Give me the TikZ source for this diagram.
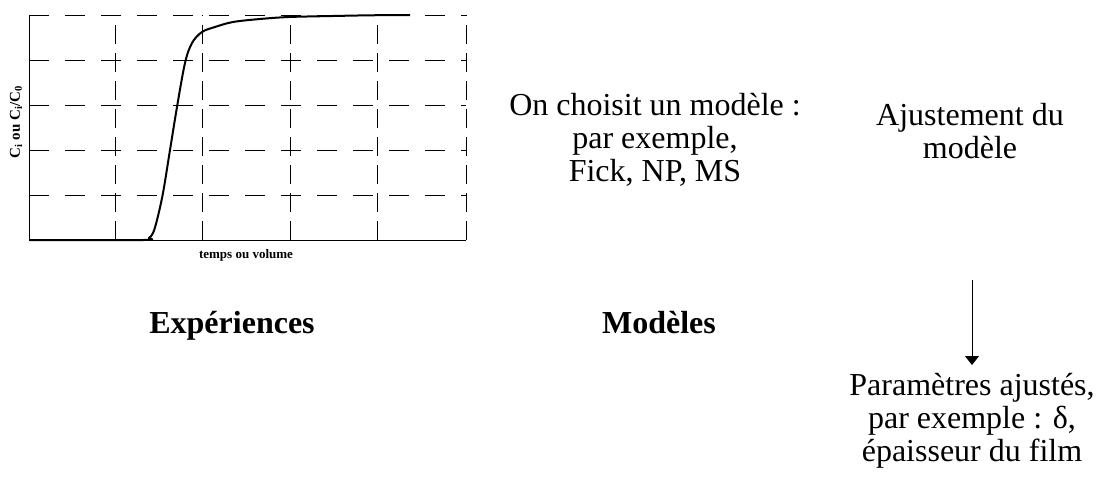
\documentclass[tikz,border=0pt]{standalone}
\usepackage{fontspec}
\setmainfont{Liberation Serif}
\usetikzlibrary{arrows.meta}
\tikzset{
  big/.style={font=\fontsize{32}{33}\selectfont, inner sep=0pt, align=center},
  head/.style={font=\fontsize{32}{35}\selectfont\bfseries, inner sep=0pt},
  small/.style={font=\fontsize{13}{15}\selectfont\bfseries, inner sep=0pt},
  ysmall/.style={font=\fontsize{15}{17}\selectfont\bfseries, inner sep=0pt},
  hgrid/.style={line width=0.9pt, dash pattern=on 20pt off 16pt},
  vgrid/.style={line width=0.9pt, dash pattern=on 19pt off 9pt},
  axis/.style={line width=1pt},
  curve/.style={line width=2pt, line join=round},
  arr/.style={line width=1pt, -{Triangle[length=9pt,width=14pt]}}
}
\begin{document}
\begin{tikzpicture}[x=1pt,y=-1pt]
\useasboundingbox (0,0) rectangle (1099,477);
% plot frame and grid
\foreach \yy in {15,60,105,150,195} \draw[hgrid] (29,\yy) -- (466,\yy);
\foreach \xx in {115.4,202.8,290.2,377.6,466} \draw[vgrid] (\xx,240) -- (\xx,15);
\draw[axis] (29,15) -- (29,240) -- (466,240);
\foreach \yy in {60,105,150,195} \draw[axis] (29,\yy) -- (35,\yy);
% curve
\draw[curve] plot[smooth, tension=0.55] coordinates {
 (30,240) (143,240) (149,238) (153,233) (157,220) (163,193) (170,150)
 (177,107) (185,63) (192,43) (202,32) (215,27) (233,22) (260,19)
 (289,17) (333,16) (370,15.3) (410,15)};
% axis labels
\node[small, anchor=base] (xlab) at (246,258) {temps ou volume};
\node[ysmall, rotate=90] (ylab) at (16,122) {C$_\mathbf{i}$ ou C$_\mathbf{i}$/C$_\mathbf{0}$};
% texts
\node[big, anchor=north] (model) at (655,93) {On choisit un modèle :\\par exemple,\\Fick, NP, MS};
\node[big, anchor=north] (ajust) at (970,103) {Ajustement du\\modèle};
\node[head, anchor=base] (exp) at (232,333) {Expériences};
\node[head, anchor=base] (mods) at (659,333) {Modèles};
\node[big, anchor=north, outer ysep=8pt] (params) at (972,365) {Paramètres ajustés,\\par exemple : δ,\\épaisseur du film};
\coordinate (arrtop) at (972,280);
\draw[arr] (arrtop) -- (params.north);
\end{tikzpicture}
\end{document}
